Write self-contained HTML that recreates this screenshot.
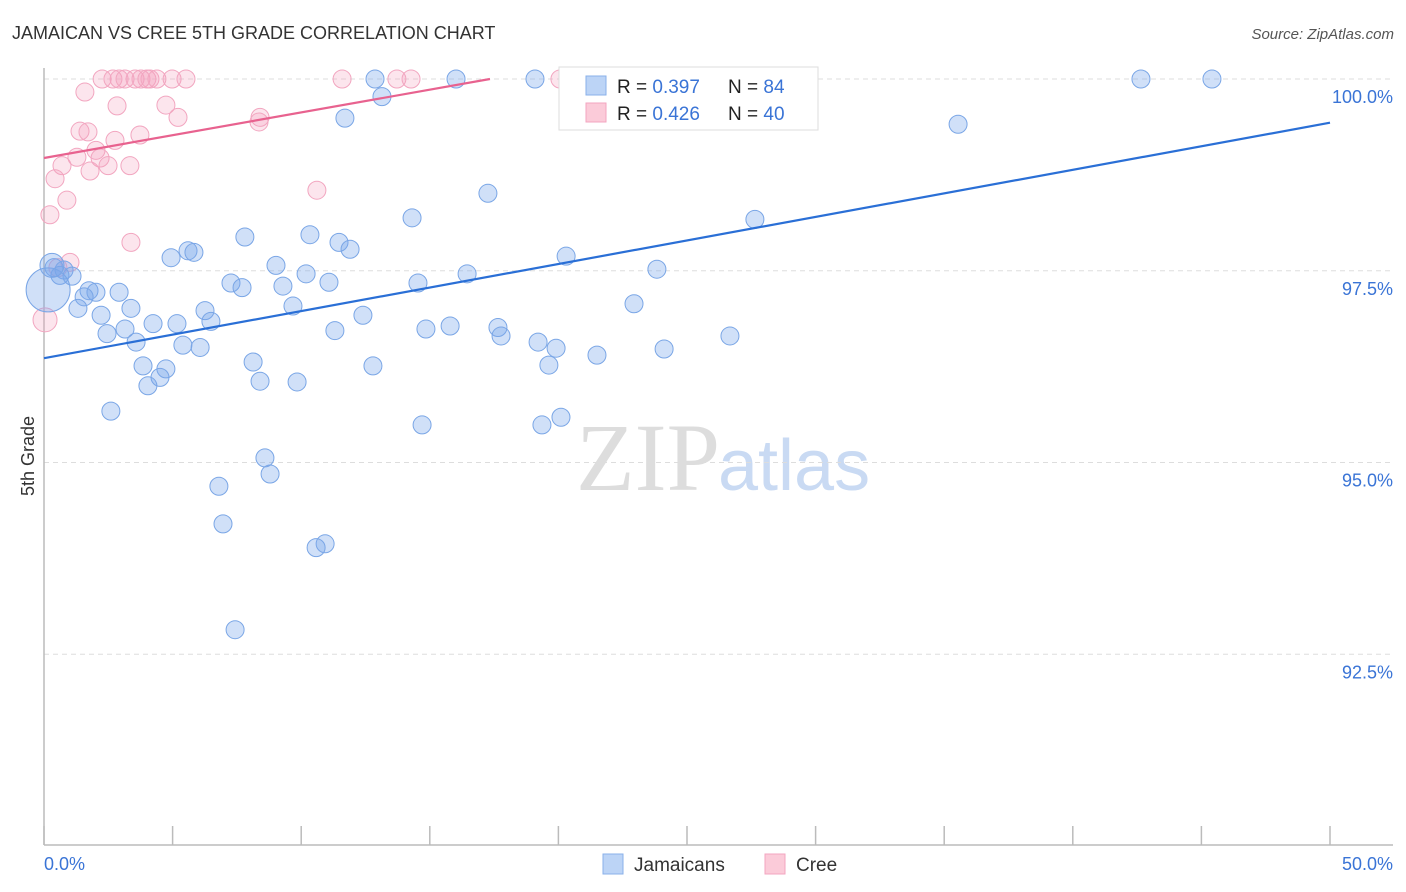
<!DOCTYPE html>
<html><head><meta charset="utf-8"><style>
body{margin:0;background:#fff;font-family:"Liberation Sans",sans-serif;}
#wrap{position:relative;width:1406px;height:892px;overflow:hidden;}
</style></head><body>
<div id="wrap">
<svg id="chart" width="1406" height="892">
<text x="12" y="39" font-size="18" fill="#333">JAMAICAN VS CREE 5TH GRADE CORRELATION CHART</text>
<text x="1394" y="39" font-size="15" fill="#555" font-style="italic" text-anchor="end">Source: ZipAtlas.com</text>
<text x="720" y="490" font-size="96" font-family="Liberation Serif,serif" fill="#ddd" text-anchor="end">ZIP</text>
<text x="718" y="490" font-size="72" fill="#c9daf3">atlas</text>
<text transform="translate(34,456) rotate(-90)" font-size="18" fill="#333" text-anchor="middle">5th Grade</text>
<g id="grid"></g><g id="axes"></g><g id="marks"></g>
<g>
<rect x="559" y="67" width="259" height="63" fill="#fff" stroke="#ddd"/>
<rect x="586" y="76" width="20" height="19" fill="#bcd4f6" stroke="#8ab0ea"/>
<rect x="586" y="103" width="20" height="19" fill="#fbcbd9" stroke="#f3a6c0"/>
<text x="617" y="93" font-size="19" fill="#222">R = <tspan fill="#3a74d6">0.397</tspan><tspan x="728">N = </tspan><tspan fill="#3a74d6">84</tspan></text>
<text x="617" y="120" font-size="19" fill="#222">R = <tspan fill="#3a74d6">0.426</tspan><tspan x="728">N = </tspan><tspan fill="#3a74d6">40</tspan></text>
</g>
<g>
<rect x="603" y="854" width="20" height="20" fill="#bcd4f6" stroke="#8ab0ea"/>
<text x="634" y="871" font-size="19" fill="#333">Jamaicans</text>
<rect x="765" y="854" width="20" height="20" fill="#fbcbd9" stroke="#f3a6c0"/>
<text x="796" y="871" font-size="19" fill="#333">Cree</text>
</g>
</svg>
</div>
<script>
const yTicks=[100,97.5,95,92.5];
const yTickLabels=["100.0%","97.5%","95.0%","92.5%"];
const xTickVals=[0,5,10,15,20,25,30,35,40,45,50];
const xEndLabels=["0.0%","50.0%"];
const blueX=[12.87,16.02,19.09,26.52,28.65,42.65,45.41,13.14,11.70,35.54,17.26,14.31,27.64,7.81,10.34,11.47,11.90,5.60,5.83,4.94,20.30,9.02,23.83,10.19,16.45,0.39,0.78,1.09,0.62,7.27,7.70,11.08,9.29,14.54,1.75,2.02,2.92,1.56,22.94,9.68,1.32,3.38,6.26,6.49,12.40,2.22,4.24,5.17,3.15,11.31,14.85,15.79,17.65,17.77,26.67,2.45,3.58,5.40,6.07,19.21,19.91,24.11,21.50,8.13,3.85,4.74,12.79,19.63,4.51,4.04,8.40,9.84,2.60,14.70,19.36,20.10,8.59,8.79,6.80,6.96,10.93,10.58,7.43,0.16,0.31];
const blueY=[100,100,100,100,100,100,100,99.77,99.49,99.41,98.51,98.19,98.17,97.94,97.97,97.87,97.78,97.76,97.74,97.67,97.69,97.57,97.52,97.46,97.46,97.54,97.51,97.43,97.44,97.34,97.28,97.35,97.30,97.34,97.24,97.22,97.22,97.16,97.07,97.04,97.01,97.01,96.98,96.84,96.92,96.92,96.81,96.81,96.74,96.72,96.74,96.78,96.76,96.65,96.65,96.68,96.57,96.53,96.50,96.57,96.49,96.48,96.40,96.31,96.26,96.22,96.26,96.27,96.11,96.00,96.06,96.05,95.67,95.49,95.49,95.59,95.06,94.85,94.69,94.20,93.94,93.89,92.82,97.25,97.57];
const blueR=[9,9,9,9,9,9,9,9,9,9,9,9,9,9,9,9,9,9,9,9,9,9,9,9,9,9,9,9,9,9,9,9,9,9,9,9,9,9,9,9,9,9,9,9,9,9,9,9,9,9,9,9,9,9,9,9,9,9,9,9,9,9,9,9,9,9,9,9,9,9,9,9,9,9,9,9,9,9,9,9,9,9,9,22,12];
const pinkX=[2.26,2.68,2.92,3.15,3.54,3.77,4.00,4.12,4.39,4.98,5.52,11.59,13.72,14.27,20.06,1.59,2.84,4.74,5.21,8.40,8.36,1.40,1.71,3.73,2.76,2.02,1.28,2.18,0.70,2.49,3.34,1.79,0.43,10.61,0.89,0.23,3.38,1.01,0.54,0.04];
const pinkY=[100,100,100,100,100,100,100,100,100,100,100,100,100,100,100,99.83,99.65,99.66,99.50,99.50,99.44,99.32,99.31,99.27,99.20,99.07,98.98,98.97,98.87,98.87,98.87,98.80,98.70,98.55,98.42,98.23,97.87,97.61,97.54,96.86];
const pinkR=[9,9,9,9,9,9,9,9,9,9,9,9,9,9,9,9,9,9,9,9,9,9,9,9,9,9,9,9,9,9,9,9,9,9,9,9,9,9,9,12];
const blueTrendX=[0,50];const blueTrendY=[96.36,99.43];
const pinkTrendX=[0,17.34];const pinkTrendY=[98.97,100];

const NS="http://www.w3.org/2000/svg";
const sx=v=>44+v*25.72;
const sy=v=>79+(100-v)*76.7;
function mk(tag,attrs,parent){const e=document.createElementNS(NS,tag);for(const k in attrs)e.setAttribute(k,attrs[k]);parent.appendChild(e);return e;}
const grid=document.getElementById('grid'),axes=document.getElementById('axes'),marks=document.getElementById('marks');
yTicks.forEach((t,i)=>{
 const l=mk('line',{x1:44,x2:1393,y1:sy(t),y2:sy(t),stroke:'#ddd','stroke-dasharray':'5,4'},grid);
 
 
 const tx=mk('text',{x:1393,y:sy(t)+24,'font-size':18,fill:'#3a74d6','text-anchor':'end'},grid);
 tx.textContent=yTickLabels[i];
 
 
});
const ya=mk('line',{x1:44,x2:44,y1:68,y2:845,stroke:'#bbb','stroke-width':1.5},axes);


const xa=mk('line',{x1:44,x2:1393,y1:845,y2:845,stroke:'#bbb','stroke-width':1.5},axes);


xTickVals.forEach(v=>{
 const t=mk('line',{x1:sx(v),x2:sx(v),y1:826,y2:845,stroke:'#bbb','stroke-width':1.5},axes);
 
 
});
const l0=mk('text',{x:44,y:870,'font-size':18,fill:'#3a74d6'},axes);l0.textContent=xEndLabels[0];


const l1=mk('text',{x:1393,y:870,'font-size':18,fill:'#3a74d6','text-anchor':'end'},axes);l1.textContent=xEndLabels[1];


pinkX.forEach((x,i)=>{
 const c=mk('circle',{cx:sx(x),cy:sy(pinkY[i]),r:pinkR[i],fill:'rgba(244,160,190,0.28)',stroke:'#f2a6c0','stroke-width':1},marks);
 
 
});
blueX.forEach((x,i)=>{
 const c=mk('circle',{cx:sx(x),cy:sy(blueY[i]),r:blueR[i],fill:'rgba(120,165,235,0.35)',stroke:'#7aa6e6','stroke-width':1},marks);
 
 
});
const bt=mk('line',{x1:sx(blueTrendX[0]),y1:sy(blueTrendY[0]),x2:sx(blueTrendX[1]),y2:sy(blueTrendY[1]),stroke:'#2a6fd6','stroke-width':2.2},marks);


const pt=mk('line',{x1:sx(pinkTrendX[0]),y1:sy(pinkTrendY[0]),x2:sx(pinkTrendX[1]),y2:sy(pinkTrendY[1]),stroke:'#e8628f','stroke-width':2.2},marks);


</script>
</body></html>
